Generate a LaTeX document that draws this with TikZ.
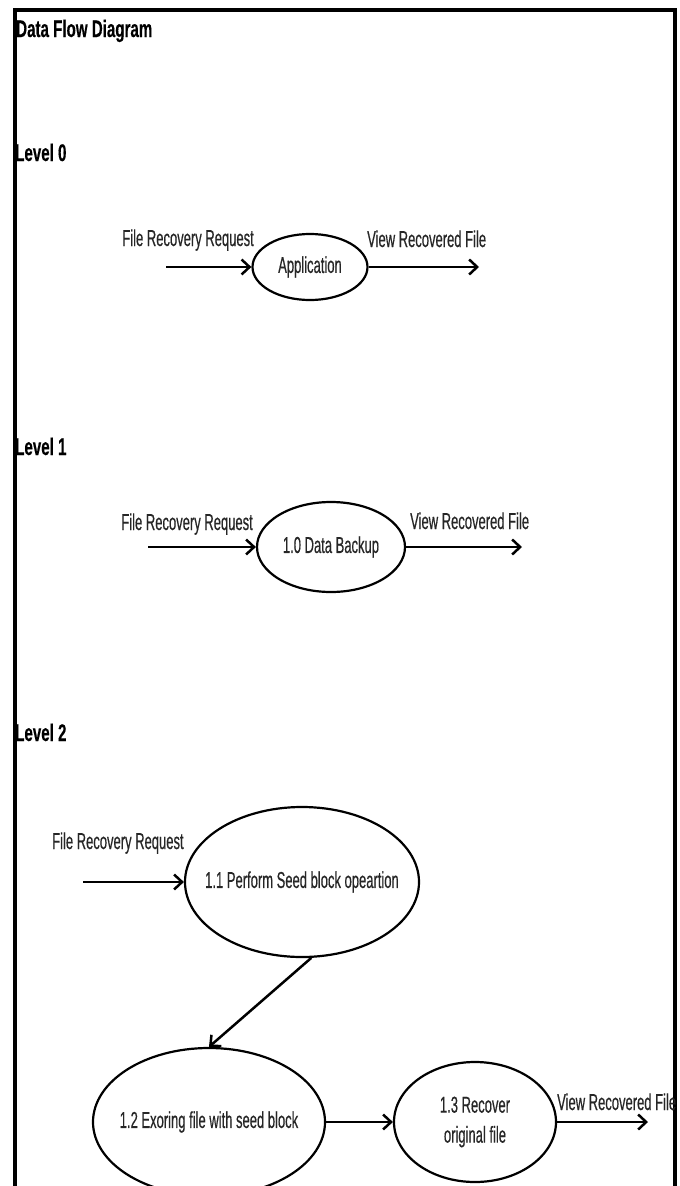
\documentclass[tikz,border=0pt]{standalone}
\usepackage{fontspec}
\newfontfamily\lblfont{Liberation Sans}[FakeStretch=0.565, FakeBold=0.4]
\newfontfamily\hdfont{Liberation Sans}[FakeStretch=0.63, FakeBold=0.3]
\usetikzlibrary{shapes.geometric,arrows.meta}
\begin{document}
\begin{tikzpicture}[x=1pt,y=-1pt,
  proc/.style={draw, ellipse, line width=2.2pt, inner sep=0pt},
  flow/.style={line width=2.5pt, -{Straight Barb[length=8pt,width=15pt]}},
  lbl/.style={font=\lblfont\fontsize{23}{30}\selectfont, inner sep=0pt, text=black!85},
  head/.style={font=\hdfont\bfseries\fontsize{24}{26}\selectfont, inner sep=0pt}]

\useasboundingbox (0,0) rectangle (680,1186);
\fill[white] (0,0) rectangle (680,1186);
\draw[line width=3.5pt] (15,1192) -- (15,10) -- (675,10) -- (675,1192);

% headings
\node[head, anchor=base west] (title) at (16,37) {Data Flow Diagram};
\node[head, anchor=base west] (lv0) at (15,161) {Level 0};
\node[head, anchor=base west] (lv1) at (15,455) {Level 1};
\node[head, anchor=base west] (lv2) at (15,741) {Level 2};

% Level 0
\node[proc, minimum width=115pt, minimum height=66pt] (e0) at (310,267) {};
\node[lbl] (t0) at (e0.center) {Application};
\coordinate (in0) at (166,267);
\coordinate (out0) at (479,267);
\draw[flow] (in0) -- (e0.west);
\draw[flow] (e0.east) -- (out0);
\node[lbl, anchor=base east] (fr0) at (254,246) {File Recovery Request};
\node[lbl, anchor=base west] (vr0) at (367,247) {View Recovered File};

% Level 1
\node[proc, minimum width=148pt, minimum height=90pt] (e1) at (331,547) {};
\node[lbl] (t1) at (e1.center) {1.0 Data Backup};
\coordinate (in1) at (148,547);
\coordinate (out1) at (522,547);
\draw[flow] (in1) -- (e1.west);
\draw[flow] (e1.east) -- (out1);
\node[lbl, anchor=base east] (fr1) at (253,530) {File Recovery Request};
\node[lbl, anchor=base west] (vr1) at (410,529) {View Recovered File};

% Level 2
\node[proc, minimum width=234pt, minimum height=150pt] (e11) at (302,882) {};
\node[lbl] (t11) at (e11.center) {1.1 Perform Seed block opeartion};
\node[proc, minimum width=232pt, minimum height=148pt] (e12) at (209,1122) {};
\node[lbl] (t12) at (e12.center) {1.2 Exoring file with seed block};
\node[proc, minimum width=162pt, minimum height=120pt] (e13) at (475,1122) {};
\node[lbl, align=center] (t13) at (e13.center) {1.3 Recover\\original file};
\coordinate (in2) at (83,882);
\coordinate (out2) at (648,1122);
\draw[flow] (in2) -- (e11.west);
\draw[flow] (e11.-83) -- (e12.north);
\draw[flow] (e12.east) -- (e13.west);
\draw[flow] (e13.east) -- (out2);
\node[lbl, anchor=base west] (fr2) at (52,849) {File Recovery Request};
\node[lbl, anchor=base west] (vr2) at (557,1110) {View Recovered File};
\end{tikzpicture}
\end{document}
